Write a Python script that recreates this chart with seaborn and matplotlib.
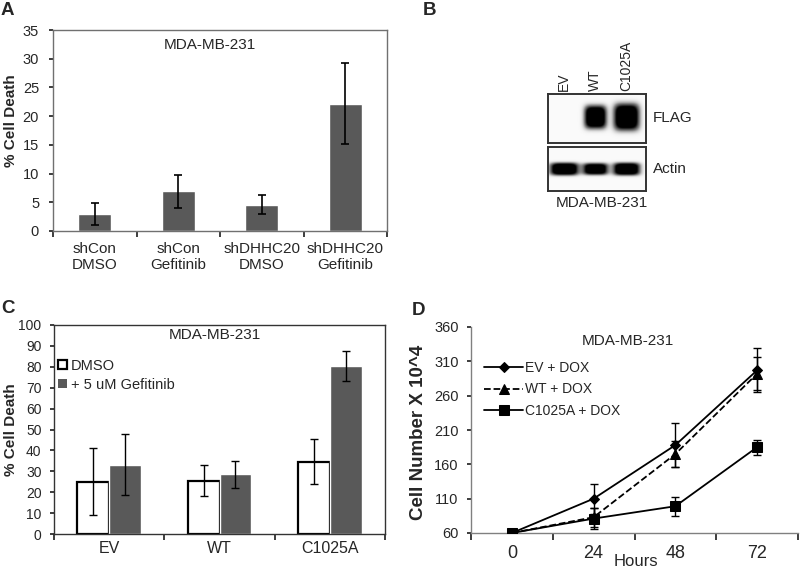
import numpy as np
import pandas as pd
import matplotlib.pyplot as plt
import seaborn as sns
from matplotlib.patches import Patch

sns.set_theme(style='ticks')
plt.rcParams['font.family'] = ['Liberation Sans', 'DejaVu Sans']

# ---- data ----
# panel A
a_groups = ['shCon\nDMSO', 'shCon\nGefitinib', 'shDHHC20\nDMSO', 'shDHHC20\nGefitinib']
a_death = [3.0, 6.9, 4.6, 22.2]
a_err = [1.9, 2.9, 1.6, 7.0]

# panel B (western blot band signal, arbitrary units)
b_lanes = ['EV', 'WT', 'C1025A']
b_flag = [0.0, 1.0, 1.0]
b_actin = [1.0, 0.95, 1.0]

# panel C
c_lines = ['EV', 'WT', 'C1025A']
c_treat = ['DMSO', '+ 5 uM Gefitinib']
c_dmso = [25.0, 25.5, 34.5]
c_dmso_err = [16.0, 7.3, 10.8]
c_gef = [33.2, 28.5, 80.5]
c_gef_err = [14.5, 6.5, 7.2]

# panel D
d_hours = ['0', '24', '48', '72']
d_ev = [60, 110, 188, 297]
d_ev_err = [0, 22, 32, 32]
d_wt = [60, 83, 175, 292]
d_wt_err = [0, 14, 19, 24]
d_mut = [60, 81, 99, 185]
d_mut_err = [0, 15, 14, 11]

BAR = '#595959'
W, H = 800, 570


def px_axes(fig, left, top, right, bottom):
    return fig.add_axes([left / W, 1 - bottom / H, (right - left) / W, (bottom - top) / H])


def boundary_ticks(ax, labels, pad, size):
    n = len(labels)
    ax.set_xlim(-0.5, n - 0.5)
    ax.set_xticks(np.arange(n + 1) - 0.5)
    ax.set_xticklabels([])
    ax.set_xticks(np.arange(n), minor=True)
    ax.set_xticklabels(labels, minor=True, fontsize=size)
    ax.tick_params(axis='x', which='major', length=4, direction='out')
    ax.tick_params(axis='x', which='minor', length=0, pad=pad)
    ax.set_xlabel('')


fig = plt.figure(figsize=(8, 5.7), dpi=100)

# ---------------- A ----------------
axA = px_axes(fig, 53, 30, 387, 231)
sns.barplot(x=a_groups, y=a_death, color=BAR, width=0.4, errorbar=None, ax=axA,
            saturation=1)
axA.errorbar(np.arange(len(a_groups)), a_death, yerr=a_err, fmt='none',
             ecolor='black', elinewidth=1.2, capsize=3, capthick=1.2)
axA.set_ylim(0, 35)
axA.set_yticks(np.arange(0, 36, 5))
axA.tick_params(axis='y', length=3, pad=7, labelsize=10.5)
boundary_ticks(axA, a_groups, 8, 11)
for s in axA.spines.values():
    s.set_color('#707070')
    s.set_linewidth(1.0)
axA.set_ylabel('% Cell Death', fontsize=11, fontweight='bold')
axA.yaxis.set_label_coords(-0.105, 0.55)
axA.text(0.47, 0.925, 'MDA-MB-231', transform=axA.transAxes, ha='center',
         va='center', fontsize=11)

# ---------------- B (blot) ----------------
def blot(ax, signal, yc, hh, hw):
    xs = np.linspace(-0.52, 2.65, 200)
    ys = np.linspace(0, 1, 80)
    X, Y = np.meshgrid(xs, ys)
    img = np.full_like(X, 0.04)
    for i, s in enumerate(signal):
        img += s * np.exp(-(np.abs(X - i) / hw[i]) ** 4 - (np.abs(Y - yc) / hh[i]) ** 4) * 1.3
    ax.imshow(np.clip(img, 0, 1), cmap='Greys', vmin=0, vmax=1, origin='lower',
              extent=(-0.52, 2.65, 0, 1), aspect='auto', interpolation='bilinear')
    ax.set_xlim(-0.52, 2.65)
    ax.set_ylim(0, 1)
    ax.set_xticks([])
    ax.set_yticks([])
    for s in ax.spines.values():
        s.set_color('#333333')
        s.set_linewidth(1.4)


axB1 = px_axes(fig, 548, 94, 646, 143)
blot(axB1, b_flag, 0.53, [0.25, 0.25, 0.29], [0.37, 0.37, 0.43])
axB2 = px_axes(fig, 548, 147, 646, 191)
blot(axB2, b_actin, 0.5, [0.15, 0.14, 0.15], [0.48, 0.42, 0.45])
for i, lane in enumerate(b_lanes):
    axB1.text(i, 1.06, lane, rotation=90, ha='center', va='bottom', fontsize=10,
              transform=axB1.get_xaxis_transform())
axB1.text(1.07, 0.5, 'FLAG', transform=axB1.transAxes, ha='left', va='center', fontsize=11)
axB2.text(1.07, 0.5, 'Actin', transform=axB2.transAxes, ha='left', va='center', fontsize=11)
axB2.text(0.55, -0.27, 'MDA-MB-231', transform=axB2.transAxes, ha='center', va='center',
          fontsize=11)

# ---------------- C ----------------
axC = px_axes(fig, 54, 325, 385, 534)
df_c = pd.DataFrame({
    'line': c_lines * 2,
    'death': c_dmso + c_gef,
    'treatment': [c_treat[0]] * 3 + [c_treat[1]] * 3,
})
sns.barplot(data=df_c, x='line', y='death', hue='treatment', hue_order=c_treat,
            palette=['white', BAR], width=0.58, errorbar=None, saturation=1,
            legend=False, ax=axC)
for b in axC.containers[0]:
    b.set_edgecolor('black')
    b.set_linewidth(1.6)
for cont, vals, errs in zip(axC.containers, [c_dmso, c_gef], [c_dmso_err, c_gef_err]):
    xs = [b.get_x() + b.get_width() / 2 for b in cont]
    axC.errorbar(xs, vals, yerr=errs, fmt='none', ecolor='black', elinewidth=1.0,
                 capsize=3, capthick=1.0)
axC.set_ylim(0, 100)
axC.set_yticks(np.arange(0, 101, 10))
axC.tick_params(axis='y', length=3, pad=6, labelsize=10)
boundary_ticks(axC, c_lines, 5, 11.5)
for s in axC.spines.values():
    s.set_color('#333333')
    s.set_linewidth(1.0)
axC.set_ylabel('% Cell Death', fontsize=11, fontweight='bold')
axC.yaxis.set_label_coords(-0.11, 0.5)
axC.text(0.485, 0.95, 'MDA-MB-231', transform=axC.transAxes, ha='center',
         va='center', fontsize=11)
handles = [Patch(facecolor='white', edgecolor='black', linewidth=1.6),
           Patch(facecolor=BAR, edgecolor='none')]
axC.legend(handles, c_treat, loc='upper left', bbox_to_anchor=(0.0, 0.86),
           frameon=False, fontsize=10.5, handlelength=0.6, handleheight=0.6,
           handletextpad=0.25, labelspacing=0.35, borderaxespad=0.1, borderpad=0.2)

# ---------------- D ----------------
axD = px_axes(fig, 471, 327, 798, 533)
x_pos = np.arange(len(d_hours))
series = [
    ('EV + DOX', d_ev, d_ev_err, 'D', '-', 5.5),
    ('WT + DOX', d_wt, d_wt_err, '^', '--', 6.5),
    ('C1025A + DOX', d_mut, d_mut_err, 's', '-', 7),
]
for name, vals, errs, mk, ls, ms in series:
    axD.errorbar(x_pos, vals, yerr=errs, fmt='none', ecolor='black', elinewidth=1.0,
                 capsize=3, capthick=1.0, zorder=2)
    sns.lineplot(x=x_pos, y=vals, ax=axD, color='black', marker=mk, markersize=ms,
                 linestyle=ls, linewidth=1.3, markeredgecolor='black', label=name,
                 zorder=3)
axD.set_ylim(60, 360)
axD.set_yticks(np.arange(60, 361, 50))
axD.tick_params(axis='y', length=3, pad=6, labelsize=10.5)
boundary_ticks(axD, d_hours, 9, 13)
axD.tick_params(axis='x', which='major', length=5)
sns.despine(ax=axD)
for s in ['left', 'bottom']:
    axD.spines[s].set_color('#808080')
    axD.spines[s].set_linewidth(1.0)
axD.set_ylabel('Cell Number X 10^4', fontsize=13.5, fontweight='bold')
axD.yaxis.set_label_coords(-0.135, 0.49)
axD.set_xlabel('Hours', fontsize=12, va='bottom')
axD.xaxis.set_label_coords(0.505, -0.176)
axD.text(0.48, 0.93, 'MDA-MB-231', transform=axD.transAxes, ha='center',
         va='center', fontsize=11)
h, l = axD.get_legend_handles_labels()
axD.legend(h, l, loc='upper left', bbox_to_anchor=(0.02, 0.87), frameon=False,
           fontsize=10, handlelength=2.8, handletextpad=0.1, labelspacing=0.55,
           borderaxespad=0.1)

# panel letters
for letter, x, y in [('A', 1, 15), ('B', 423, 15), ('C', 1, 313), ('D', 412, 315)]:
    fig.text(x / W, 1 - y / H, letter, fontsize=13.5, fontweight='bold', va='baseline')

fig.savefig('out.png', dpi=100)
